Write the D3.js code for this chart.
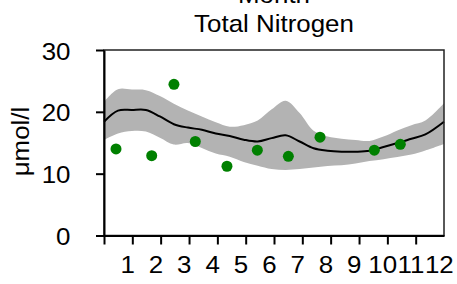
<!DOCTYPE html>
<html>
<head>
<meta charset="utf-8">
<script src="https://cdn.jsdelivr.net/npm/d3@7"></script>
<style>
  body { margin: 0; background: #fff; }
  text { font-family: "Liberation Sans", Arial, sans-serif; fill: #000; }
</style>
</head>
<body>
<svg id="chart" width="457" height="284"></svg>
<script>
// Total Nitrogen by month: observations, smoothed fit and band

// day of year of the month tick marks
var monthTicks = [0, 30.4, 60.8, 91.3, 121.7, 152.1, 182.5, 212.9, 243.3, 273.8, 304.2, 334.6];
var monthLabels = ["1", "2", "3", "4", "5", "6", "7", "8", "9", "10", "11", "12"];
var labelDays = [25.4, 55.8, 86.2, 116.7, 147.1, 177.5, 207.9, 238.3, 268.7, 299.2, 329.6, 360];

// observed samples (day of year, umol/l)
var obsDay = [12.9, 51.2, 75.1, 98.0, 132.0, 164.6, 197.9, 231.9, 290.2, 318.1];
var obsVal = [14.0, 12.9, 24.45, 15.2, 11.2, 13.8, 12.8, 15.9, 13.8, 14.75];

// smoothed fit and its band
var fitDay = [0, 15, 30, 45, 60, 75, 90, 105, 120, 135, 150, 165, 180, 195, 210, 225, 240, 255, 270, 285, 300, 315, 330, 345, 365];
var fitVal = [18.4, 20.2, 20.3, 20.3, 19.25, 18.0, 17.45, 17.1, 16.5, 16.1, 15.5, 15.2, 15.75, 16.2, 15.2, 14.1, 13.7, 13.55, 13.55, 13.7, 14.3, 14.95, 15.65, 16.35, 18.4];
var upperVal = [21.6, 23.65, 23.6, 23.5, 22.55, 21.3, 20.2, 19.25, 18.3, 17.6, 17.85, 18.6, 20.4, 21.8, 19.8, 16.95, 16.0, 15.65, 15.45, 15.3, 16.0, 17.0, 17.85, 18.6, 21.4];
var lowerVal = [15.45, 16.5, 16.9, 16.8, 15.8, 14.7, 14.95, 14.15, 13.25, 12.75, 11.9, 11.3, 10.75, 10.6, 10.75, 11.0, 11.25, 11.35, 11.65, 12.05, 12.35, 12.7, 13.1, 13.75, 14.8];

var yTicks = [0, 10, 20, 30];

var margin = {left: 104, right: 13, top: 50, bottom: 48.5};
var width = 457 - margin.left - margin.right;
var height = 284 - margin.top - margin.bottom;
var fontSize = 24;
var stretch = "scale(1.08,1)";

var svg = d3.select("#chart");
var g = svg.append("g").attr("transform", "translate(" + margin.left + "," + margin.top + ")");

var x = d3.scaleLinear().domain([0, 365]).range([0, width]);
var y = d3.scaleLinear().domain([0, 30]).range([height, 0]);

var band = fitDay.map(function(d, i) {
    return {day: d, fit: fitVal[i], lo: lowerVal[i], hi: upperVal[i]};
});

var area = d3.area()
    .x(function(d) { return x(d.day); })
    .y0(function(d) { return y(d.lo); })
    .y1(function(d) { return y(d.hi); })
    .curve(d3.curveCatmullRom);

var line = d3.line()
    .x(function(d) { return x(d.day); })
    .y(function(d) { return y(d.fit); })
    .curve(d3.curveCatmullRom);

g.append("path").datum(band).attr("d", area).attr("fill", "#b3b3b3");
g.append("path").datum(band).attr("d", line)
    .attr("fill", "none").attr("stroke", "#000").attr("stroke-width", 2);

var obs = obsDay.map(function(d, i) { return {day: d, val: obsVal[i]}; });
g.selectAll("circle.obs")
    .data(obs)
    .enter()
    .append("circle")
    .attr("class", "obs")
    .attr("cx", function(d) { return x(d.day); })
    .attr("cy", function(d) { return y(d.val); })
    .attr("r", 5.5)
    .attr("fill", "#008000");

// frame
g.append("rect")
    .attr("width", width).attr("height", height)
    .attr("fill", "none").attr("stroke", "#222").attr("stroke-width", 1.5);

// y axis
var yAxis = g.append("g")
    .call(d3.axisLeft(y).tickValues(yTicks).tickSize(8).tickSizeOuter(0).tickPadding(23));
yAxis.selectAll("path, line").attr("stroke", "#000").attr("stroke-width", 2);
yAxis.selectAll("text")
    .attr("dy", "0.38em")
    .attr("font-size", fontSize)
    .attr("font-family", "'Liberation Sans', Arial, sans-serif")
    .attr("transform", stretch);

// x axis: marks at month starts, labels placed separately
var xAxis = g.append("g")
    .attr("transform", "translate(0," + height + ")")
    .call(d3.axisBottom(x).tickValues(monthTicks).tickSize(9).tickSizeOuter(0).tickFormat(""));
xAxis.selectAll("path, line").attr("stroke", "#000").attr("stroke-width", 2);

g.append("g")
    .selectAll("text")
    .data(monthLabels)
    .enter()
    .append("text")
    .attr("transform", function(d, i) {
        return "translate(" + x(labelDays[i]) + "," + (height + 37.5) + ") " + stretch;
    })
    .attr("text-anchor", "middle")
    .attr("font-size", fontSize)
    .text(function(d) { return d; });

// titles
svg.append("text")
    .attr("transform", "translate(274,3) " + stretch)
    .attr("text-anchor", "middle")
    .attr("font-size", fontSize)
    .text("Month");
svg.append("text")
    .attr("transform", "translate(274,32) " + stretch)
    .attr("text-anchor", "middle")
    .attr("font-size", fontSize)
    .text("Total Nitrogen");

svg.append("text")
    .attr("transform", "translate(28.5,141.5) rotate(-90) " + stretch)
    .attr("text-anchor", "middle")
    .attr("font-size", fontSize)
    .text("μmol/l");
</script>
</body>
</html>
